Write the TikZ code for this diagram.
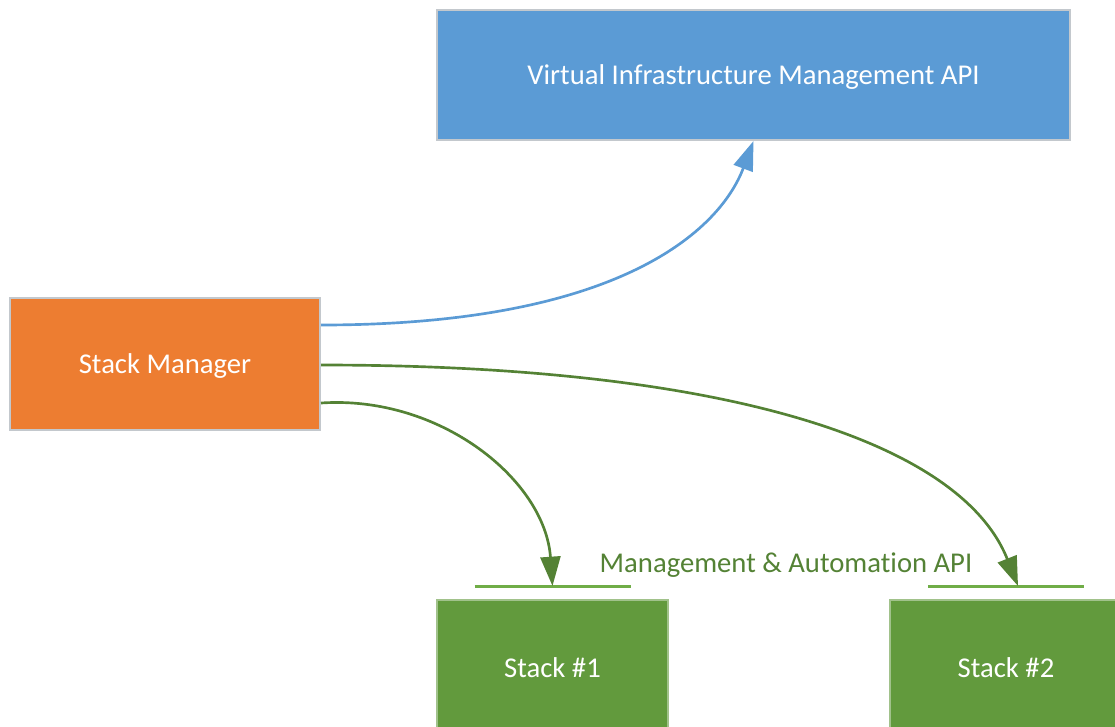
\documentclass[tikz,border=0pt]{standalone}
\usepackage{fontspec}
\setmainfont[Ligatures=NoCommon]{Carlito}
\usetikzlibrary{arrows.meta}
\definecolor{vimblue}{HTML}{5B9BD5}
\definecolor{smorange}{HTML}{ED7D31}
\definecolor{stackgreen}{HTML}{629A3D}
\definecolor{darkgreen}{HTML}{548235}
\definecolor{apigreen}{HTML}{70AD47}
\definecolor{boxgray}{HTML}{C3C8CD}
\begin{document}
\begin{tikzpicture}[x=0.75pt,y=-0.75pt,
  box/.style={draw=boxgray,line width=1.5pt,text=white,inner sep=0pt,
    font=\fontsize{21.5}{26}\selectfont,text height=13.85pt,text depth=0pt},
  link/.style={line width=2pt,-{Triangle[length=22pt,width=15pt]}},
  apiline/.style={apigreen,line width=2.25pt}]
%page, in pixels of the reference
\useasboundingbox (0,0) rectangle (1115,726);
\clip (0,0) rectangle (1115,726);
%half length of the api lines
\pgfmathsetmacro{\apiW}{58.5}
%----------------------
%boxes
\node[box,fill=vimblue,minimum width=474.75pt,minimum height=97.5pt] (vim) at (753.5,75) {Virtual Infrastructure Management API};
\node[box,fill=smorange,minimum width=232.5pt,minimum height=99pt] (sm) at (165,364) {Stack Manager};
%stacks run off the bottom edge
\node[box,fill=stackgreen,draw=stackgreen!60!white,minimum width=173.25pt,minimum height=102pt] (s1) at (552.5,668) {Stack \#1};
\node[box,fill=stackgreen,draw=stackgreen!60!white,minimum width=174pt,minimum height=102pt] (s2) at (1006,668) {Stack \#2};
%----------------------
%api lines over the stacks
\coordinate (api1) at ([yshift=9.75pt]s1.north);
\coordinate (api2) at ([yshift=9.75pt]s2.north);
\draw[apiline] ([xshift=-\apiW pt]api1) -- ([xshift=\apiW pt]api1);
\draw[apiline] ([xshift=-\apiW pt]api2) -- ([xshift=\apiW pt]api2);
\node[text=darkgreen,font=\fontsize{21.5}{26}\selectfont,text height=13.85pt,text depth=0pt,inner sep=0pt] (apilabel) at (786,563) {Management \& Automation API};
%----------------------
%connectors
\coordinate (smA) at ([yshift=29.25pt]sm.east);
\coordinate (smB) at ([yshift=-0.75pt]sm.east);
\coordinate (smC) at ([yshift=-29.25pt]sm.east);
\coordinate (tip2) at ([xshift=9pt]api2);
\draw[link,vimblue] (smA) .. controls (620,325) and (720,230) .. (vim.south);
\draw[link,darkgreen] (smB) .. controls (720,365) and (960,440) .. (tip2);
\draw[link,darkgreen] (smC) .. controls (440,395) and (545,480) .. (api1);
\end{tikzpicture}
\end{document}
